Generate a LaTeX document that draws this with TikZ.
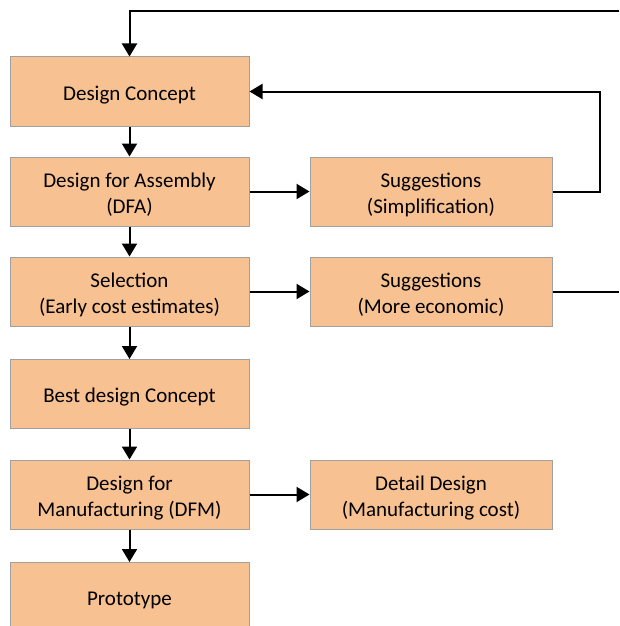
\documentclass[tikz,border=0pt]{standalone}
\usepackage{fontspec}
\setmainfont{Carlito}
\usetikzlibrary{arrows.meta}

\definecolor{boxfill}{RGB}{248,193,146}
\definecolor{boxline}{RGB}{160,160,160}

\begin{document}
\begin{tikzpicture}[%
        x = 1pt,
        y = -1pt,
        line width = 2pt,
        > = {Triangle[length = 13pt, width = 15pt]},
        stage/.style = {%
            draw = boxline,
            line width = 1pt,
            fill = boxfill,
            minimum width = 239pt,
            minimum height = 69pt
        },
        stagetext/.style = {%
            align = center,
            yshift = -3.5pt,
            font = \fontsize{21}{26}\selectfont
        }
    ]

        % Fix the page size.
        \useasboundingbox (0, 0) rectangle (619, 626);
        \clip (0, 0) rectangle (619, 626);

        % Main column of stages.
        \node[stage, label = {[stagetext]center:Design Concept}] (concept) at (129.5, 91.5) {};
        \node[stage, label = {[stagetext]center:Design for Assembly\\(DFA)}] (dfa) at (129.5, 191.5) {};
        \node[stage, label = {[stagetext]center:Selection\\(Early cost estimates)}] (select) at (129.5, 291.5) {};
        \node[stage, label = {[stagetext]center:Best design Concept}] (best) at (129.5, 394) {};
        \node[stage, label = {[stagetext]center:Design for\\Manufacturing (DFM)}] (dfm) at (129.5, 494.5) {};
        \node[stage, label = {[stagetext]center:Prototype}] (proto) at (129.5, 597) {};

        % Side column.
        \node[stage, minimum width = 242pt, label = {[stagetext]center:Suggestions\\(Simplification)}] (simple) at (431, 191.5) {};
        \node[stage, minimum width = 242pt, label = {[stagetext]center:Suggestions\\(More economic)}] (econ) at (431, 291.5) {};
        \node[stage, minimum width = 242pt, label = {[stagetext]center:Detail Design\\(Manufacturing cost)}] (detail) at (431, 494.5) {};

        % Loose ends at the right edge.
        \coordinate (topin) at (619, 11);
        \coordinate (econout) at (619, 291.5);

        % Down the main column.
        \draw[->] (concept) to (dfa);
        \draw[->] (dfa) to (select);
        \draw[->] (select) to (best);
        \draw[->] (best) to (dfm);
        \draw[->] (dfm) to (proto);

        % Across to the side column.
        \draw[->] (dfa) to (simple);
        \draw[->] (select) to (econ);
        \draw[->] (dfm) to (detail);

        % Feedback loops.
        \draw[->] (simple.east) -- (600, 191.5) -- (600, 91.5) -- (concept.east);
        \draw (econ.east) -- (econout);
        \draw[->] (topin) -| (concept.north);
    \end{tikzpicture}
\end{document}
